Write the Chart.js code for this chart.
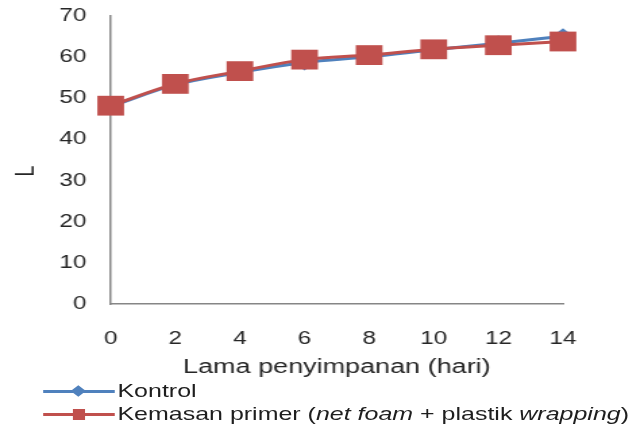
<!DOCTYPE html>
<html>
<head>
<meta charset="utf-8">
<script src="https://cdn.jsdelivr.net/npm/chart.js@4"></script>
<style>
html,body{margin:0;padding:0;background:#fff;overflow:hidden;}
#stage{position:absolute;left:0;top:0;width:473px;height:424px;transform:scaleX(1.35);transform-origin:0 0;}
#chart{position:absolute;left:0;top:0;}
.row{position:absolute;left:0;height:22px;font-family:"Liberation Sans",Arial,sans-serif;font-size:18.5px;color:#1e1e1e;white-space:nowrap;}
.row span.txt{position:absolute;left:87px;top:0;line-height:22px;}
.ln{position:absolute;left:32px;width:53px;top:10px;height:3px;}
.mk{position:absolute;}
</style>
</head>
<body>
<div id="stage">
<canvas id="chart" width="473" height="384"></canvas>
<div class="row" style="top:380px;">
<div class="ln" style="background:#4f81bd;"></div>
<div class="mk" style="left:54px;top:7px;width:8px;height:8px;background:#4f81bd;transform:rotate(45deg);"></div>
<span class="txt">Kontrol</span>
</div>
<div class="row" style="top:403px;">
<div class="ln" style="background:#c0504d;"></div>
<div class="mk" style="left:54px;top:6px;width:9px;height:11px;background:#c0504d;"></div>
<span class="txt">Kemasan primer (<i>net foam</i> + plastik <i>wrapping</i>)</span>
</div>
</div>
<script>
// storage days
const days=['0','2','4','6','8','10','12','14'];
// L values
const kontrol=[48.0,53.3,56.3,58.7,60.1,61.8,63.4,65.1];
const kemasan=[48.2,53.5,56.6,59.4,60.5,61.9,62.9,63.8];

const blue='#4f81bd';
const red='#c0504d';
const txt='#262626';
const font="'Liberation Sans', Arial, sans-serif";

new Chart(document.getElementById('chart'),{
type:'line',
data:{
labels:days,
datasets:[{
label:'Kontrol',
data:kontrol,
borderColor:blue,
backgroundColor:blue,
borderWidth:3,
pointStyle:'rectRot',
pointRadius:8,
pointBorderWidth:0,
cubicInterpolationMode:'monotone',
order:1
},{
label:'Kemasan primer (net foam + plastik wrapping)',
data:kemasan,
borderColor:red,
backgroundColor:red,
borderWidth:3,
pointStyle:'rect',
pointRadius:14,
pointBorderWidth:0,
cubicInterpolationMode:'monotone',
order:0
}]
},
options:{
responsive:false,
animation:false,
layout:{autoPadding:false,padding:{left:3,top:0,right:56,bottom:2}},
plugins:{legend:{display:false},tooltip:{enabled:false}},
scales:{
x:{
offset:false,
afterFit:s=>{s.height=78;},
grid:{display:false,drawTicks:false},
border:{display:true,color:'#868686',width:1.5},
ticks:{font:{family:font,size:18},color:txt,padding:24,maxRotation:0},
title:{display:true,text:'Lama penyimpanan (hari)',font:{family:font,size:20},color:txt,padding:{top:5,bottom:3}}
},
y:{
min:0,max:70,
// keep axis width and top gap fixed so the plot area matches the figure
afterFit:s=>{s.width=79;s.paddingTop=16;},
grid:{display:false,drawTicks:false},
border:{display:true,color:'#868686',width:1.5},
ticks:{stepSize:10,font:{family:font,size:18},color:txt,padding:18},
title:{display:true,text:'L    ',font:{family:font,size:20},color:txt,padding:{top:4,bottom:13}}
}
}
}
});
</script>
</body>
</html>
